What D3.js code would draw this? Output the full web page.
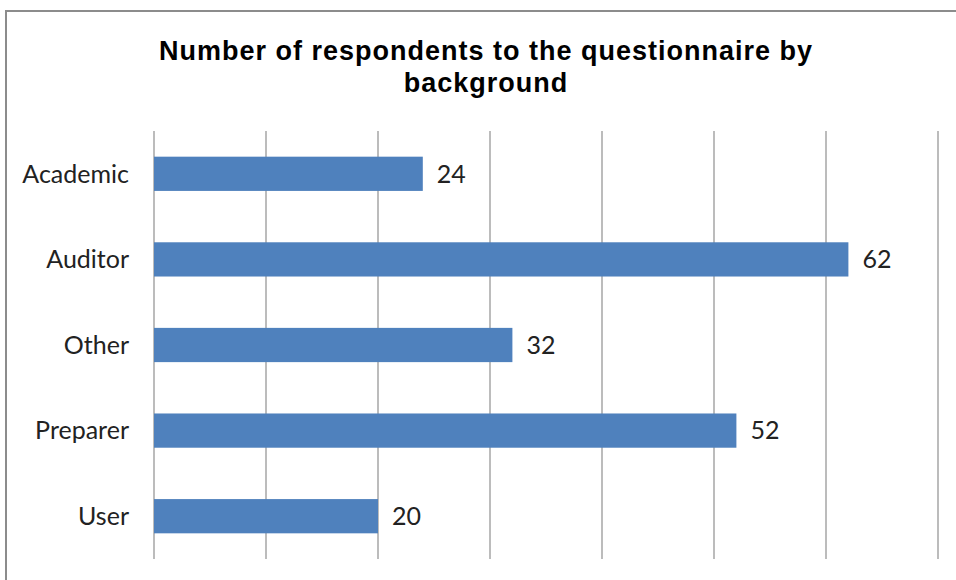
<!DOCTYPE html>
<html>
<head>
<meta charset="utf-8">
<script src="https://cdn.jsdelivr.net/npm/d3@7"></script>
<style>
  body { margin: 0; background: #fff; }
  svg { display: block; }
</style>
</head>
<body>
<svg id="chart" width="956" height="580"></svg>
<script>
// Data
const categories = ["Academic", "Auditor", "Other", "Preparer", "User"];
const respondents = [24, 62, 32, 52, 20];
const xTicks = [0, 10, 20, 30, 40, 50, 60, 70];
const titleLines = ["Number of respondents to the questionnaire by", "background"];

const svg = d3.select("#chart");
const margin = {left: 154, right: 18, top: 131, bottom: 21};
const W = 956, H = 580;

// chart area border
svg.append("rect")
  .attr("x", 6).attr("y", 11)
  .attr("width", 960).attr("height", 600)
  .attr("fill", "#fff")
  .attr("stroke", "#8c8c8c").attr("stroke-width", 2);

const x = d3.scaleLinear().domain([0, 70]).range([margin.left, W - margin.right]);
const y = d3.scaleBand().domain(categories)
  .range([margin.top, H - margin.bottom])
  .paddingInner(0.6).paddingOuter(0.3);

// gridlines
svg.append("g").selectAll("line")
  .data(xTicks)
  .enter().append("line")
  .attr("x1", d => x(d)).attr("x2", d => x(d))
  .attr("y1", margin.top).attr("y2", H - margin.bottom)
  .attr("stroke", "#a6a6a6").attr("stroke-width", 1.5);

// bars
svg.append("g").selectAll("rect")
  .data(respondents)
  .enter().append("rect")
  .attr("x", x(0))
  .attr("y", (d, i) => y(categories[i]))
  .attr("width", d => x(d) - x(0))
  .attr("height", y.bandwidth())
  .attr("fill", "#4f81bd");

// value labels
svg.append("g").selectAll("text")
  .data(respondents)
  .enter().append("text")
  .attr("x", d => x(d) + 14)
  .attr("y", (d, i) => y(categories[i]) + y.bandwidth() / 2)
  .attr("dy", "0.35em")
  .style("font-family", "Lato, 'Open Sans', sans-serif")
  .style("font-size", "25px")
  .attr("fill", "#222")
  .text(d => d);

// category labels
svg.append("g").selectAll("text")
  .data(categories)
  .enter().append("text")
  .attr("x", 129)
  .attr("y", d => y(d) + y.bandwidth() / 2)
  .attr("dy", "0.35em")
  .attr("text-anchor", "end")
  .style("font-family", "Lato, 'Open Sans', sans-serif")
  .style("font-size", "25px")
  .attr("fill", "#222")
  .text(d => d);

// title
svg.append("g").selectAll("text")
  .data(titleLines)
  .enter().append("text")
  .attr("x", 486)
  .attr("y", (d, i) => 60 + i * 32)
  .attr("text-anchor", "middle")
  .style("font-family", "'Liberation Sans', Arial, sans-serif")
  .style("font-weight", "bold")
  .style("font-size", "27px")
  .style("letter-spacing", "1px")
  .attr("fill", "#000")
  .text(d => d);
</script>
</body>
</html>
